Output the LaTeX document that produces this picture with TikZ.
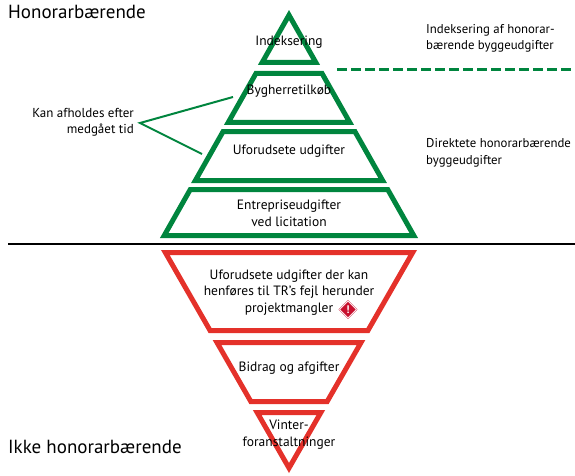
\documentclass[tikz,border=0pt]{standalone}
\usepackage{fontspec}
\setmainfont{PT Sans}
\usetikzlibrary{shapes.geometric}
\definecolor{pgreen}{RGB}{0,133,62}
\definecolor{pred}{RGB}{228,49,42}
\definecolor{warnred}{RGB}{200,16,46}

\begin{document}
\begin{tikzpicture}[x=1pt,y=-1pt,
    band/.style={line width=5pt,line join=miter},
    lbl/.style={align=center,font=\fontsize{13.5}{16.5}\selectfont,inner sep=0pt},
    sidetext/.style={align=left,font=\fontsize{12.8}{16.5}\selectfont,inner sep=0pt,anchor=west},
    headtext/.style={font=\fontsize{19}{21}\selectfont,inner sep=0pt,anchor=west}]
  \useasboundingbox (0,0) rectangle (575,476);

  % green pyramid
  \draw[band,pgreen] (289,15.1) -- (289+0.566*52.5-2.87,62.5) -- (289-0.566*52.5+2.87,62.5) -- cycle;
  \foreach \ya/\yb in {73.5/122.5, 131.5/180.5, 189.5/235.5} {
    \pgfmathsetmacro\wa{0.566*(\ya-10)-2.87}
    \pgfmathsetmacro\wb{0.566*(\yb-10)-2.87}
    \draw[band,pgreen] (289-\wa,\ya) -- (289+\wa,\ya) -- (289+\wb,\yb) -- (289-\wb,\yb) -- cycle;
  }

  % red pyramid
  \foreach \ya/\yb in {252.5/330.5, 342.5/401.5} {
    \pgfmathsetmacro\wa{0.574*(473-\ya)-2.88}
    \pgfmathsetmacro\wb{0.574*(473-\yb)-2.88}
    \draw[band,pred] (289-\wa,\ya) -- (289+\wa,\ya) -- (289+\wb,\yb) -- (289-\wb,\yb) -- cycle;
  }
  \draw[band,pred] (289-0.574*60.5+2.88,412.5) -- (289+0.574*60.5-2.88,412.5) -- (289,468) -- cycle;

  % dividing line
  \coordinate (lineL) at (8,244);
  \coordinate (lineR) at (575,244);
  \draw[line width=2pt] (lineL) -- (lineR);

  \node[headtext] (honor) at (8,12) {Honorarbærende};
  \node[headtext] (ikke) at (8,447) {Ikke honorarbærende};

  % labels in the bands
  \node[lbl] (idx) at (289,42.5) {Indeksering};
  \node[lbl] (bygh) at (289,91.5) {Bygherretilkøb};
  \node[lbl] (ufor) at (289,151.5) {Uforudsete udgifter};
  \node[lbl] (entr) at (289,213.5) {Entrepriseudgifter\\ved licitation};
  \node[lbl] (uforTR) at (289,292.5) {Uforudsete udgifter der kan\\henføres til TR’s fejl herunder\\projektmangler};
  \node[lbl] (bidrag) at (289,368.5) {Bidrag og afgifter};
  \node[lbl] (vinter) at (289,434.5) {Vinter-\\foranstaltninger};
  \node[diamond,fill=warnred,draw=warnred,double=white,double distance=0.7pt,
    minimum size=17pt,inner sep=0pt,text=white,font=\bfseries\fontsize{11}{11}\selectfont]
    (warn) at (348,309.5) {!};

  % side notes
  \node[lbl,align=right,anchor=east,font=\fontsize{13}{16.5}\selectfont] (afhold) at (134,122.5) {Kan afholdes efter\\medgået tid};
  \node[sidetext] (indeksR) at (426,38.5) {Indeksering af honorar-\\bærende byggeudgifter};
  \node[sidetext] (direkte) at (426,153) {Direktete honorarbærende\\byggeudgifter};

  \coordinate (fork) at (140,123);
  \coordinate (byghEnd) at (233,97);
  \coordinate (uforEnd) at (202,154);
  \draw[pgreen,line width=2pt] (byghEnd) -- (fork) -- (uforEnd);

  \coordinate (dashA) at (337,69.3);
  \coordinate (dashB) at (575,69.3);
  \draw[pgreen,line width=3.5pt,dash pattern=on 10pt off 4pt] (dashA) -- (dashB);
\end{tikzpicture}
\end{document}
